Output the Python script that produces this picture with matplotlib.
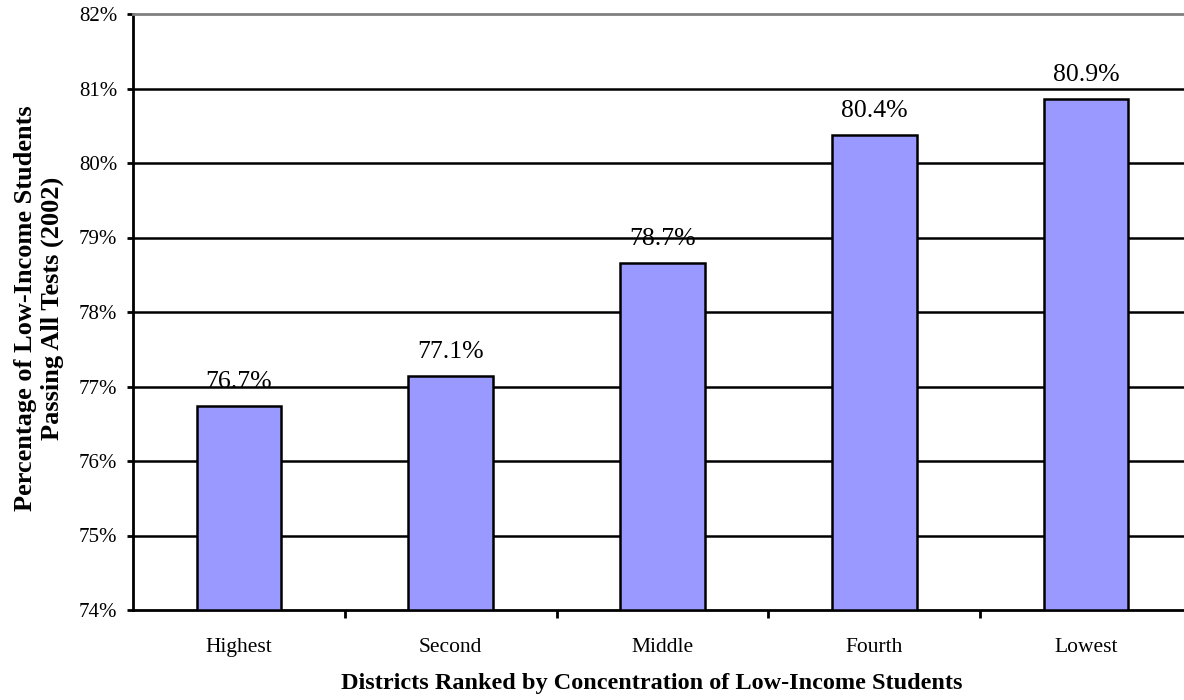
import matplotlib
matplotlib.use("Agg")
import matplotlib.pyplot as plt
from matplotlib.ticker import FuncFormatter

categories = ["Highest", "Second", "Middle", "Fourth", "Lowest"]
values = [76.74, 77.14, 78.66, 80.37, 80.86]
yticks = [74, 75, 76, 77, 78, 79, 80, 81, 82]

plt.rcParams['font.family'] = ['Liberation Serif', 'DejaVu Serif']

W, H = 1184, 700
fig = plt.figure(figsize=(W / 100, H / 100), dpi=100)
left, right, top, bottom = 133, 1192, 14, 610
ax = fig.add_axes([left / W, 1 - bottom / H, (right - left) / W, (bottom - top) / H])

x = list(range(len(categories)))
ax.bar(x, [v - 74 for v in values], bottom=74, width=0.4, color="#9999FF",
       edgecolor="black", linewidth=1.8, zorder=3)
for xi, v in zip(x, values):
    ax.annotate(f"{v:.1f}%", xy=(xi, v), xytext=(0, 13), textcoords="offset points",
                ha="center", va="baseline", fontsize=18.5, zorder=4)

ax.set_xlim(-0.5, len(categories) - 0.5)
ax.set_ylim(74, 82)
ax.set_yticks(yticks)
ax.yaxis.set_major_formatter(FuncFormatter(lambda v, p: f"{v:.0f}%"))
ax.set_xticks([i + 0.5 for i in range(len(categories) - 1)])
ax.set_xticklabels([])
ax.set_xticks(x, minor=True)
ax.set_xticklabels(categories, minor=True)
ax.tick_params(axis="x", which="minor", length=0, pad=20, labelsize=15.5)
ax.tick_params(axis="x", which="major", length=5.5, width=2, direction="out")
ax.tick_params(axis="y", length=4.5, width=2, direction="out", labelsize=15, pad=7)

for yv in yticks[1:-1]:
    ax.axhline(yv, color="black", linewidth=1.8, zorder=1)

for s in ["left", "bottom"]:
    ax.spines[s].set_linewidth(2)
    ax.spines[s].set_color("black")
ax.spines["top"].set_color("#808080")
ax.spines["top"].set_linewidth(2)
ax.spines["right"].set_visible(False)

fig.text(39 / W, 1 - 308 / H, "Percentage of Low-Income Students\nPassing All Tests (2002)",
         ha="center", va="center", rotation=90, fontsize=19, fontweight="bold",
         multialignment="center")
fig.text(652 / W, 1 - 684 / H, "Districts Ranked by Concentration of Low-Income Students",
         ha="center", va="center", fontsize=17.5, fontweight="bold")

fig.savefig("out.png", dpi=100)
